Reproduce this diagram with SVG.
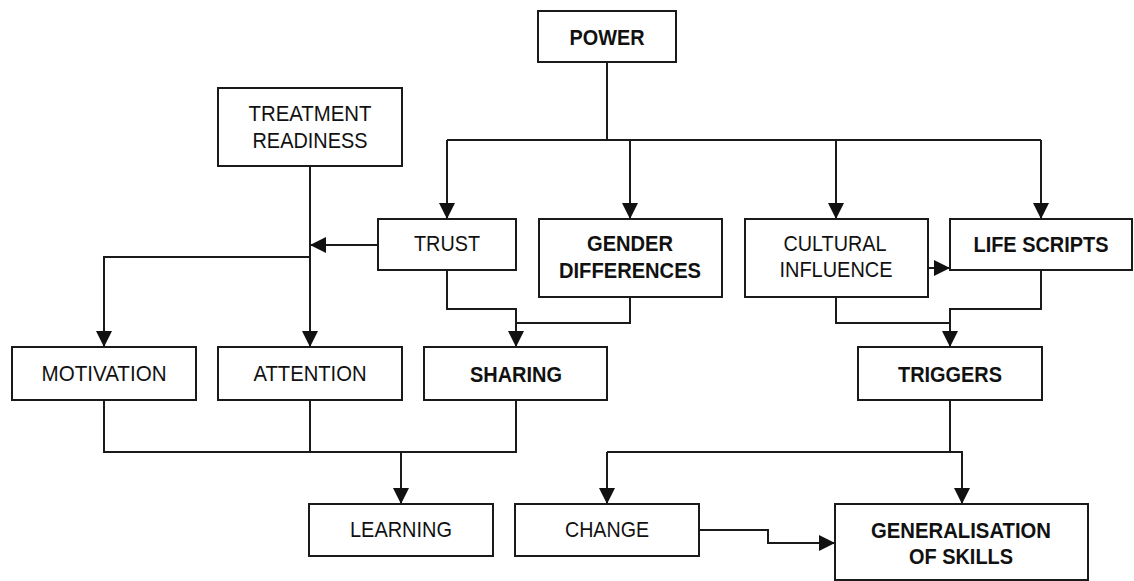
<svg xmlns="http://www.w3.org/2000/svg" width="1134" height="581" viewBox="0 0 1134 581">
<style>
.box{fill:#fff;stroke:#1a1a1a;stroke-width:2}
.t{font-family:"Liberation Sans",Arial,sans-serif;font-size:22px;fill:#111;text-anchor:middle}
.b{font-weight:bold}
.c{fill:none;stroke:#1a1a1a;stroke-width:2}
</style>
<defs>
<marker id="ah" viewBox="0 0 16 16" refX="16" refY="8" markerWidth="16" markerHeight="16" markerUnits="userSpaceOnUse" orient="auto">
<path d="M0,0 L16,8 L0,16 Z" fill="#111"/>
</marker>
</defs>
<rect width="1134" height="581" fill="#fff"/>
<g id="connectors">
<path class="c" d="M607,62 V140 M447,140 H1041"/>
<path class="c" d="M447,140 V219" marker-end="url(#ah)"/>
<path class="c" d="M630,140 V219" marker-end="url(#ah)"/>
<path class="c" d="M836,140 V219" marker-end="url(#ah)"/>
<path class="c" d="M1041,140 V219" marker-end="url(#ah)"/>
<path class="c" d="M310,166 V347" marker-end="url(#ah)"/>
<path class="c" d="M378,245 H310" marker-end="url(#ah)"/>
<path class="c" d="M310,257 H104 V347" marker-end="url(#ah)"/>
<path class="c" d="M447,270 V309 H516 V347" marker-end="url(#ah)"/>
<path class="c" d="M630,297 V323 H516"/>
<path class="c" d="M836,297 V323 H950"/>
<path class="c" d="M1041,270 V309 H950 V347" marker-end="url(#ah)"/>
<path class="c" d="M928,268 H950" marker-end="url(#ah)"/>
<path class="c" d="M104,400 V452 H516 V400 M310,400 V452"/>
<path class="c" d="M401,452 V504" marker-end="url(#ah)"/>
<path class="c" d="M950,400 V452"/>
<path class="c" d="M607,452 H962 V504" marker-end="url(#ah)"/>
<path class="c" d="M607,452 V504" marker-end="url(#ah)"/>
<path class="c" d="M699,530 H768 V543 H835" marker-end="url(#ah)"/>
</g>
<g id="power"><rect class="box" x="538" y="11" width="138" height="51"/><text class="t b" x="607" y="45" textLength="75" lengthAdjust="spacingAndGlyphs">POWER</text></g>
<g id="treatment-readiness"><rect class="box" x="218" y="88" width="184" height="78"/><text class="t" x="310" y="121" textLength="123" lengthAdjust="spacingAndGlyphs">TREATMENT</text><text class="t" x="310" y="148" textLength="115" lengthAdjust="spacingAndGlyphs">READINESS</text></g>
<g id="trust"><rect class="box" x="378" y="219" width="138" height="51"/><text class="t" x="447" y="251" textLength="66" lengthAdjust="spacingAndGlyphs">TRUST</text></g>
<g id="gender-differences"><rect class="box" x="539" y="219" width="183" height="78"/><text class="t b" x="630" y="251" textLength="86" lengthAdjust="spacingAndGlyphs">GENDER</text><text class="t b" x="630" y="278" textLength="142" lengthAdjust="spacingAndGlyphs">DIFFERENCES</text></g>
<g id="cultural-influence"><rect class="box" x="745" y="219" width="183" height="78"/><text class="t" x="835" y="251" textLength="103" lengthAdjust="spacingAndGlyphs">CULTURAL</text><text class="t" x="836" y="277" textLength="113" lengthAdjust="spacingAndGlyphs">INFLUENCE</text></g>
<g id="life-scripts"><rect class="box" x="950" y="219" width="182" height="51"/><text class="t b" x="1041" y="252" textLength="135" lengthAdjust="spacingAndGlyphs">LIFE SCRIPTS</text></g>
<g id="motivation"><rect class="box" x="12" y="347" width="184" height="53"/><text class="t" x="104" y="381" textLength="125" lengthAdjust="spacingAndGlyphs">MOTIVATION</text></g>
<g id="attention"><rect class="box" x="218" y="347" width="184" height="53"/><text class="t" x="310" y="381" textLength="113" lengthAdjust="spacingAndGlyphs">ATTENTION</text></g>
<g id="sharing"><rect class="box" x="424" y="347" width="183" height="53"/><text class="t b" x="516" y="382" textLength="92" lengthAdjust="spacingAndGlyphs">SHARING</text></g>
<g id="triggers"><rect class="box" x="858" y="347" width="184" height="53"/><text class="t b" x="950" y="382" textLength="104" lengthAdjust="spacingAndGlyphs">TRIGGERS</text></g>
<g id="learning"><rect class="box" x="309" y="504" width="184" height="52"/><text class="t" x="401" y="537" textLength="102" lengthAdjust="spacingAndGlyphs">LEARNING</text></g>
<g id="change"><rect class="box" x="515" y="504" width="184" height="52"/><text class="t" x="607" y="537" textLength="84" lengthAdjust="spacingAndGlyphs">CHANGE</text></g>
<g id="generalisation"><rect class="box" x="835" y="504" width="253" height="76"/><text class="t b" x="961" y="538" textLength="180" lengthAdjust="spacingAndGlyphs">GENERALISATION</text><text class="t b" x="961" y="564" textLength="104" lengthAdjust="spacingAndGlyphs">OF SKILLS</text></g>
</svg>
